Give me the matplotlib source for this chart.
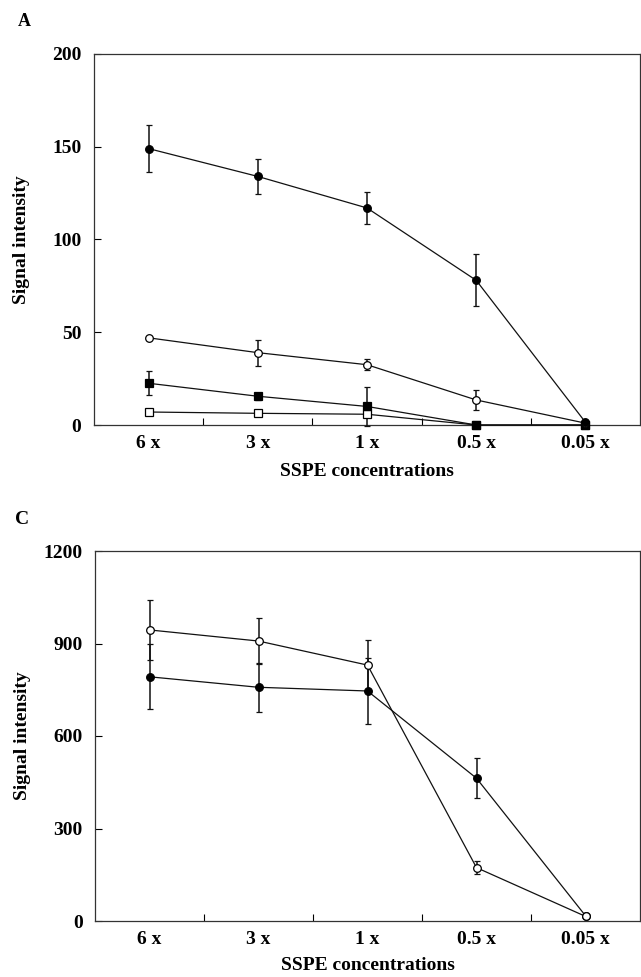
import matplotlib
matplotlib.use("Agg")
import matplotlib.pyplot as plt
import numpy as np

plt.rcParams['font.family'] = ['Liberation Serif', 'DejaVu Serif']
plt.rcParams['font.weight'] = 'bold'

categories = ["6 x", "3 x", "1 x", "0.5 x", "0.05 x"]

# Panel A
a_filled_circle = [149, 134, 117, 78, 1.5]
a_filled_circle_err = [12.5, 9.5, 8.5, 14, 0]
a_open_circle = [47, 39, 32.5, 13.5, 1]
a_open_circle_err = [0.5, 7, 3, 5.5, 0]
a_filled_square = [22.5, 15.5, 10, 0, 0]
a_filled_square_err = [6.5, 2, 10.5, 0, 0]
a_open_square = [7, 6.3, 5.8, 0, 0]
a_open_square_err = [0, 0, 0, 0, 0]
a_yticks = [0, 50, 100, 150, 200]

# Panel C
c_open_circle = [944, 908, 830, 173, 15]
c_open_circle_err = [97, 76, 81, 20, 0]
c_filled_circle = [792, 758, 746, 463, 17]
c_filled_circle_err = [105, 80, 108, 65, 0]
c_yticks = [0, 300, 600, 900, 1200]

fig = plt.figure(figsize=(6.41, 9.77), dpi=100)

def style(ax, yticks):
    x = np.arange(1, len(categories) + 1)
    ax.set_xlim(0.5, len(categories) + 0.5)
    ax.set_ylim(yticks[0], yticks[-1])
    ax.set_yticks(yticks)
    ax.set_yticklabels([str(t) for t in yticks], fontsize=14, fontweight='bold')
    ax.set_xticks(np.arange(1.5, len(categories) + 0.5))
    ax.set_xticklabels([])
    ax.set_xticks(x, minor=True)
    ax.set_xticklabels(categories, minor=True, fontsize=14, fontweight='bold')
    ax.tick_params(axis='x', which='major', direction='in', length=5, width=0.8)
    ax.tick_params(axis='x', which='minor', length=0, pad=7)
    ax.tick_params(axis='y', direction='in', length=5, width=0.8, pad=9)
    for s in ax.spines.values():
        s.set_linewidth(0.9)
        s.set_color('#333333')
    ax.set_xlabel("SSPE concentrations", fontsize=14, fontweight='bold')
    ax.set_ylabel("Signal intensity", fontsize=14, fontweight='bold')

def series(ax, y, err, marker, filled):
    x = np.arange(1, len(y) + 1)
    ax.errorbar(x, y, yerr=err, color='#111111', lw=0.9, elinewidth=1.1,
                capsize=2, capthick=0.9, marker=marker, markersize=5.5,
                markerfacecolor='black' if filled else 'white',
                markeredgecolor='black', markeredgewidth=0.9, clip_on=False, zorder=3)

axA = fig.add_axes([94/641, 1 - 425/977, (640 - 94)/641, (425 - 54)/977])
series(axA, a_open_square, a_open_square_err, 's', False)
series(axA, a_filled_square, a_filled_square_err, 's', True)
series(axA, a_open_circle, a_open_circle_err, 'o', False)
series(axA, a_filled_circle, a_filled_circle_err, 'o', True)
style(axA, a_yticks)
axA.yaxis.set_label_coords((30 - 94) / 546, 0.5)
axA.xaxis.set_label_coords(0.5, (425 - 463) / 371)

axC = fig.add_axes([95/641, 1 - 921/977, (640 - 95)/641, (921 - 551)/977])
series(axC, c_filled_circle, c_filled_circle_err, 'o', True)
series(axC, c_open_circle, c_open_circle_err, 'o', False)
style(axC, c_yticks)
axC.yaxis.set_label_coords((31 - 95) / 545, 0.5)
axC.xaxis.set_label_coords(0.5, (921 - 957) / 370)

fig.text(18/641, 1 - 22/977, "A", fontsize=13, fontweight='bold', va='center', ha='left')
fig.text(15/641, 1 - 520/977, "C", fontsize=14, fontweight='bold', va='center', ha='left')

fig.savefig("out.png", dpi=100)
